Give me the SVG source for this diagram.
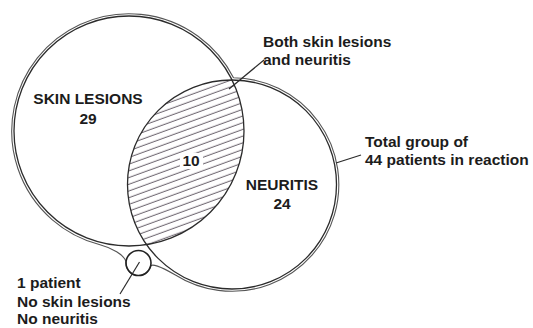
<svg xmlns="http://www.w3.org/2000/svg" width="533" height="328" viewBox="0 0 533 328">
<style>
.t{font-family:"Liberation Sans",Arial,sans-serif;font-weight:bold;font-size:15.5px;fill:#1c1c1c}
.c{text-anchor:middle}
.circ{fill:none;stroke:#2b2b2b;stroke-width:1.3}
.env{fill:none;stroke:#555;stroke-width:1.1}
.lead{fill:none;stroke:#2b2b2b;stroke-width:1.2}
</style>
<defs>
<pattern id="hatch" patternUnits="userSpaceOnUse" width="10" height="6.3" patternTransform="rotate(-20)">
<line x1="-1" y1="3" x2="11" y2="3" stroke="#4d4450" stroke-width="0.9"/>
</pattern>
<clipPath id="lensClip"><circle cx="232" cy="184.5" r="104.5"/></clipPath>
</defs>
<rect width="533" height="328" fill="#fff"/>
<g id="total-group">
<path class="env" d="M233.5,77.7 A117.3,117.3 0 1 0 100,244.7 C109.7,247.2 126,255 126,263 A12.5,12.5 0 0 0 150.6,266.2 C151.4,263.3 160,266 175,274.8 A106.8,106.8 0 1 0 233.5,77.7"/>
<text class="t" x="365" y="147">Total group of</text>
<text class="t" x="365" y="164.5">44 patients in reaction</text>
</g>
<g id="intersection">
<circle cx="129" cy="131" r="115" fill="url(#hatch)" clip-path="url(#lensClip)"/>
<rect x="180" y="153" width="23" height="16" fill="#fff"/>
<text class="t c" x="191" y="166">10</text>
<text class="t" x="263" y="47">Both skin lesions</text>
<text class="t" x="263" y="64.5">and neuritis</text>
</g>
<g id="skin-lesions">
<circle class="circ" cx="129" cy="131" r="115"/>
<text class="t c" x="88" y="104">SKIN LESIONS</text>
<text class="t c" x="88" y="123.5">29</text>
</g>
<g id="neuritis">
<circle class="circ" cx="232" cy="184.5" r="104.5"/>
<text class="t c" x="282" y="190">NEURITIS</text>
<text class="t c" x="282" y="209">24</text>
</g>
<g id="no-condition">
<circle cx="138.5" cy="263" r="12.5" fill="none" stroke="#222" stroke-width="1.6"/>
<text class="t" x="17" y="288">1 patient</text>
<text class="t" x="17" y="306.5">No skin lesions</text>
<text class="t" x="17" y="324">No neuritis</text>
</g>
<g id="connectors">
<line class="lead" x1="264" y1="60" x2="229" y2="89"/>
<line class="lead" x1="336" y1="163" x2="361" y2="155"/>
<line class="lead" x1="120" y1="294" x2="139.5" y2="262"/>
</g>
</svg>
